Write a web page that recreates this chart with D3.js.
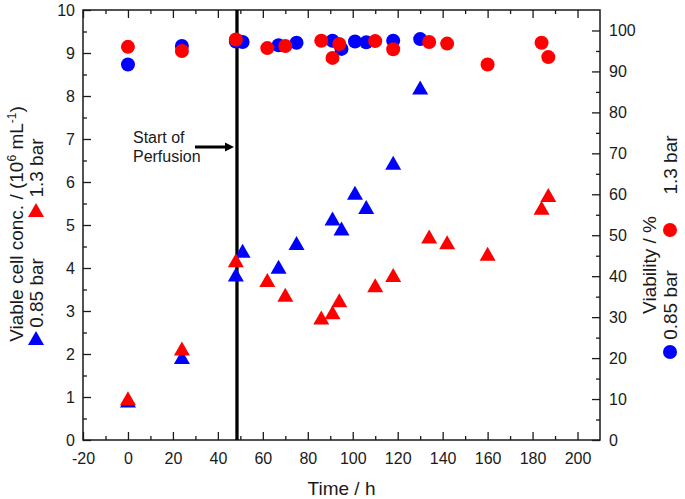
<!DOCTYPE html>
<html><head><meta charset="utf-8">
<script src="https://cdn.jsdelivr.net/npm/d3@7"></script>
<style>
body{margin:0;background:#fff}
svg text{font-family:"Liberation Sans",Arial,Helvetica,sans-serif;fill:#1a1a1a}
</style>
</head><body>
<svg id="chart" width="685" height="499"></svg>
<script>
// ---- data ----
const xTickValues = [-20,0,20,40,60,80,100,120,140,160,180,200];
const leftTickValues = [0,1,2,3,4,5,6,7,8,9,10];
const rightTickValues = [0,10,20,30,40,50,60,70,80,90,100];

// 1.3 bar (red)
const redTime = [0,24,48,62,70,86,91,94,110,118,134,142,160,184,187];
const redConc = [0.97,2.13,4.18,3.72,3.38,2.85,2.97,3.25,3.6,3.84,4.73,4.6,4.33,5.4,5.7];
const redViab = [96,95,97.8,95.7,96.2,97.5,93.3,96.7,97.4,95.4,97.2,96.8,91.7,97,93.5];

// 0.85 bar (blue)
const blueTime = [0,24,48,51,67,75,91,95,101,106,118,130];
const blueConc = [0.92,1.93,3.85,4.4,4.03,4.58,5.15,4.92,5.75,5.42,6.45,8.2];
const blueViab = [91.7,96.2,97.3,97.2,96.4,97.0,97.5,95.5,97.3,97.1,97.5,97.9];

const perfusionStart = 48.5;

// ---- layout ----
const svg = d3.select("#chart");
const L=83, R=600, T=10, B=440;
const x = d3.scaleLinear([-20,210],[L,R]);
const yL = d3.scaleLinear([0,10],[B,T]);
const yR = d3.scaleLinear([0,105],[B,T]);
const RED="#ff0000", BLUE="#0000ff", INK="#1a1a1a";
const fmt = d => String(d);

function styleAxis(g){
  g.select(".domain").remove();
  g.attr("font-family",null).attr("font-size",null).attr("color",INK);
  g.selectAll("line").attr("stroke-width",1.3);
  g.selectAll("text").style("font-size","16px");
}
const xMinor = d3.range(-10,210,20);
const lMinor = d3.range(0.5,10,1);
const rMinor = d3.range(5,105,10);

svg.append("g").attr("transform",`translate(0,${B})`)
  .call(d3.axisBottom(x).tickValues(xTickValues).tickFormat(fmt).tickSize(-8).tickPadding(13)).call(styleAxis);
svg.append("g").attr("transform",`translate(0,${B})`)
  .call(d3.axisBottom(x).tickValues(xMinor).tickSize(-4).tickFormat("")).call(styleAxis);
svg.append("g").attr("transform",`translate(0,${T})`)
  .call(d3.axisTop(x).tickValues(xTickValues).tickSize(-8).tickFormat("")).call(styleAxis);
svg.append("g").attr("transform",`translate(0,${T})`)
  .call(d3.axisTop(x).tickValues(xMinor).tickSize(-4).tickFormat("")).call(styleAxis);
svg.append("g").attr("transform",`translate(${L},0)`)
  .call(d3.axisLeft(yL).tickValues(leftTickValues).tickFormat(fmt).tickSize(-8).tickPadding(8)).call(styleAxis);
svg.append("g").attr("transform",`translate(${L},0)`)
  .call(d3.axisLeft(yL).tickValues(lMinor).tickSize(-4).tickFormat("")).call(styleAxis);
svg.append("g").attr("transform",`translate(${R},0)`)
  .call(d3.axisRight(yR).tickValues(rightTickValues).tickFormat(fmt).tickSize(-8).tickPadding(9)).call(styleAxis);
svg.append("g").attr("transform",`translate(${R},0)`)
  .call(d3.axisRight(yR).tickValues(rMinor).tickSize(-4).tickFormat("")).call(styleAxis);

svg.append("rect").attr("x",L).attr("y",T).attr("width",R-L).attr("height",B-T)
  .attr("fill","none").attr("stroke",INK).attr("stroke-width",1.5);

// ---- perfusion line & annotation ----
const px = x(perfusionStart);
svg.append("line").attr("x1",px).attr("x2",px).attr("y1",T).attr("y2",B)
  .attr("stroke","#000").attr("stroke-width",3.3);
const ay = 147;
svg.append("line").attr("x1",px-42).attr("x2",px-10).attr("y1",ay).attr("y2",ay)
  .attr("stroke","#000").attr("stroke-width",3);
svg.append("path").attr("d",`M${px-12},${ay-4.5}L${px-3},${ay}L${px-12},${ay+4.5}Z`).attr("fill","#000");
svg.append("text").attr("x",px-104).attr("y",143).style("font-size","16px").text("Start of");
svg.append("text").attr("x",px-104).attr("y",162).style("font-size","16px").text("Perfusion");

// ---- markers ----
const TW=16, TH=14, CR=7;
const triPath = `M0,${-TH/2}L${TW/2},${TH/2}L${-TW/2},${TH/2}Z`;
function tris(times, vals, color){
  svg.append("g").selectAll("path").data(d3.zip(times, vals)).join("path")
    .attr("d",triPath).attr("fill",color)
    .attr("transform",d=>`translate(${x(d[0])},${yL(d[1])})`);
}
function dots(times, vals, color){
  svg.append("g").selectAll("circle").data(d3.zip(times, vals)).join("circle")
    .attr("cx",d=>x(d[0])).attr("cy",d=>yR(d[1])).attr("r",CR).attr("fill",color);
}
tris(blueTime, blueConc, BLUE);
tris(redTime, redConc, RED);
dots(blueTime, blueViab, BLUE);
dots(redTime, redViab, RED);

// ---- axis titles ----
svg.append("text").attr("x",(L+R)/2).attr("y",495).attr("text-anchor","middle")
  .style("font-size","19px").text("Time / h");

function vtext(cx, cy){
  return svg.append("text").attr("transform",`translate(${cx},${cy}) rotate(-90)`)
    .attr("text-anchor","middle").style("font-size","19px");
}
const lt = vtext(23, 224);
lt.append("tspan").text("Viable cell conc. / (10");
lt.append("tspan").attr("dy",-7).style("font-size","12px").text("6");
lt.append("tspan").attr("dy",7).text(" mL");
lt.append("tspan").attr("dy",-7).style("font-size","12px").text("-1");
lt.append("tspan").attr("dy",7).text(")");

svg.append("path").attr("d",triPath).attr("fill",BLUE).attr("transform","translate(36,338)");
vtext(43, 293).text("0.85 bar");
svg.append("path").attr("d",triPath).attr("fill",RED).attr("transform","translate(36,210)");
vtext(43, 168).text("1.3 bar");

vtext(656, 265).text("Viability  / %");
svg.append("circle").attr("cx",670).attr("cy",352).attr("r",CR).attr("fill",BLUE);
vtext(677, 305).text("0.85 bar");
svg.append("circle").attr("cx",670).attr("cy",230).attr("r",CR).attr("fill",RED);
vtext(677, 165).text("1.3 bar");
</script>
</body></html>
